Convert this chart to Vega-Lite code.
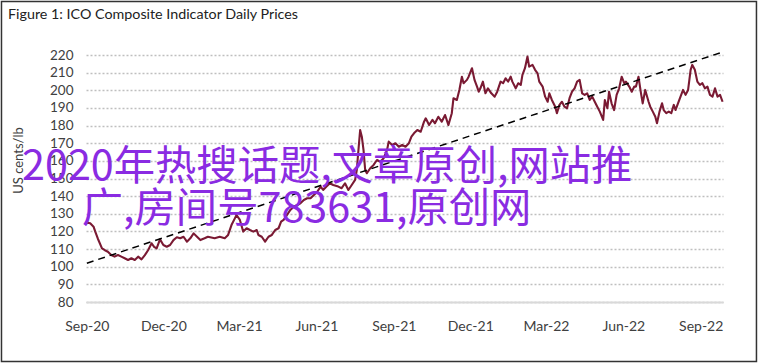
{
  "$schema": "https://vega.github.io/schema/vega-lite/v6.json",
  "autosize": {"type": "none"},
  "width": 637,
  "height": 247,
  "padding": {"left": 86, "top": 55, "right": 35, "bottom": 61},
  "background": "white",
  "config": {
    "view": {"stroke": null},
    "font": "Lato",
    "axis": {"labelFont": "Lato", "titleFont": "Lato"},
    "axisX": {
      "grid": false,
      "ticks": false,
      "tickSize": 0,
      "domain": true,
      "domainColor": "#d9d9d9",
      "domainWidth": 2,
      "labelFontSize": 14,
      "labelColor": "#404040",
      "labelPadding": 17,
      "labelFlush": false,
      "labelOverlap": false
    },
    "axisY": {
      "titleFontSize": 13,
      "titleFontWeight": "normal",
      "titleColor": "#404040",
      "titleX": -68,
      "titleY": 105,
      "titleAngle": -90,
      "titleAlign": "center",
      "titleBaseline": "middle",
      "labelOverlap": false,
      "labelBound": false,
      "grid": true,
      "gridColor": "#bfbfbf",
      "gridDash": [2, 2],
      "gridWidth": 1.3,
      "ticks": false,
      "tickSize": 0,
      "domain": false,
      "labelFontSize": 13.5,
      "labelColor": "#404040",
      "labelPadding": 13
    }
  },
  "title": {
    "text": "Figure 1: ICO Composite Indicator Daily Prices",
    "anchor": "start",
    "frame": "group",
    "dx": -78,
    "offset": -22,
    "fontSize": 14.3,
    "fontWeight": "normal",
    "font": "Lato",
    "color": "#222222"
  },
  "datasets": {
    "prices": [
      {"date": "2020-09-01", "price": 125},
      {"date": "2020-09-05", "price": 124.6},
      {"date": "2020-09-09", "price": 122.7},
      {"date": "2020-09-11", "price": 119.9},
      {"date": "2020-09-14", "price": 116},
      {"date": "2020-09-19", "price": 110.4},
      {"date": "2020-09-22", "price": 109.5},
      {"date": "2020-09-26", "price": 108.5},
      {"date": "2020-09-30", "price": 106.6},
      {"date": "2020-10-04", "price": 105.7},
      {"date": "2020-10-08", "price": 106.6},
      {"date": "2020-10-12", "price": 105.7},
      {"date": "2020-10-16", "price": 104.8},
      {"date": "2020-10-20", "price": 103.8},
      {"date": "2020-10-24", "price": 104.8},
      {"date": "2020-10-28", "price": 103.8},
      {"date": "2020-11-01", "price": 105.7},
      {"date": "2020-11-05", "price": 104.2},
      {"date": "2020-11-09", "price": 106.6},
      {"date": "2020-11-13", "price": 109.5},
      {"date": "2020-11-17", "price": 113.3},
      {"date": "2020-11-20", "price": 111.3},
      {"date": "2020-11-23", "price": 110.4},
      {"date": "2020-11-27", "price": 115.5},
      {"date": "2020-12-01", "price": 112.3},
      {"date": "2020-12-05", "price": 111.3},
      {"date": "2020-12-09", "price": 112.3},
      {"date": "2020-12-13", "price": 115.1},
      {"date": "2020-12-17", "price": 116.7},
      {"date": "2020-12-21", "price": 116.1},
      {"date": "2020-12-25", "price": 117},
      {"date": "2020-12-29", "price": 114.2},
      {"date": "2021-01-02", "price": 116.1},
      {"date": "2021-01-06", "price": 118.9},
      {"date": "2021-01-10", "price": 117},
      {"date": "2021-01-14", "price": 115.1},
      {"date": "2021-01-19", "price": 116.1},
      {"date": "2021-01-23", "price": 117},
      {"date": "2021-01-31", "price": 116.1},
      {"date": "2021-02-06", "price": 117},
      {"date": "2021-02-12", "price": 116.1},
      {"date": "2021-02-16", "price": 118},
      {"date": "2021-02-20", "price": 123.6},
      {"date": "2021-02-24", "price": 127.4},
      {"date": "2021-02-26", "price": 129.3},
      {"date": "2021-03-02", "price": 126.5},
      {"date": "2021-03-06", "price": 119.9},
      {"date": "2021-03-10", "price": 121.8},
      {"date": "2021-03-14", "price": 120.8},
      {"date": "2021-03-18", "price": 119.9},
      {"date": "2021-03-22", "price": 120.8},
      {"date": "2021-03-24", "price": 118},
      {"date": "2021-03-28", "price": 117},
      {"date": "2021-04-01", "price": 114.2},
      {"date": "2021-04-05", "price": 117},
      {"date": "2021-04-09", "price": 118},
      {"date": "2021-04-13", "price": 120.8},
      {"date": "2021-04-17", "price": 121.8},
      {"date": "2021-04-20", "price": 125.5},
      {"date": "2021-04-23", "price": 126.5},
      {"date": "2021-04-27", "price": 129.3},
      {"date": "2021-05-01", "price": 132.2},
      {"date": "2021-05-05", "price": 134},
      {"date": "2021-05-09", "price": 135},
      {"date": "2021-05-13", "price": 136},
      {"date": "2021-05-17", "price": 137.8},
      {"date": "2021-05-21", "price": 138.8},
      {"date": "2021-05-25", "price": 138.8},
      {"date": "2021-05-29", "price": 140.7},
      {"date": "2021-06-02", "price": 142.5},
      {"date": "2021-06-06", "price": 145.4},
      {"date": "2021-06-09", "price": 143.5},
      {"date": "2021-06-13", "price": 145.4},
      {"date": "2021-06-17", "price": 147.3},
      {"date": "2021-06-21", "price": 146.3},
      {"date": "2021-06-27", "price": 145.4},
      {"date": "2021-07-01", "price": 144.5},
      {"date": "2021-07-05", "price": 147.3},
      {"date": "2021-07-09", "price": 143.5},
      {"date": "2021-07-13", "price": 146.3},
      {"date": "2021-07-17", "price": 149.2},
      {"date": "2021-07-19", "price": 154.8},
      {"date": "2021-07-21", "price": 166.2},
      {"date": "2021-07-23", "price": 177.5},
      {"date": "2021-07-25", "price": 173.7},
      {"date": "2021-07-27", "price": 166.2},
      {"date": "2021-07-29", "price": 154.8},
      {"date": "2021-07-31", "price": 153},
      {"date": "2021-08-04", "price": 155.8},
      {"date": "2021-08-08", "price": 157.7},
      {"date": "2021-08-12", "price": 160.5},
      {"date": "2021-08-16", "price": 159.5},
      {"date": "2021-08-20", "price": 161.5},
      {"date": "2021-08-24", "price": 166.2},
      {"date": "2021-08-26", "price": 170.9},
      {"date": "2021-08-30", "price": 169},
      {"date": "2021-09-03", "price": 170},
      {"date": "2021-09-07", "price": 168},
      {"date": "2021-09-11", "price": 169},
      {"date": "2021-09-15", "price": 168},
      {"date": "2021-09-19", "price": 170},
      {"date": "2021-09-22", "price": 173.7},
      {"date": "2021-09-25", "price": 175.6},
      {"date": "2021-09-29", "price": 177.5},
      {"date": "2021-10-03", "price": 176.5},
      {"date": "2021-10-07", "price": 182.2},
      {"date": "2021-10-09", "price": 184.1},
      {"date": "2021-10-13", "price": 180.3},
      {"date": "2021-10-17", "price": 183.2},
      {"date": "2021-10-20", "price": 181.3},
      {"date": "2021-10-24", "price": 185},
      {"date": "2021-10-28", "price": 182.2},
      {"date": "2021-11-01", "price": 186},
      {"date": "2021-11-05", "price": 180.3},
      {"date": "2021-11-09", "price": 187},
      {"date": "2021-11-11", "price": 195.5},
      {"date": "2021-11-15", "price": 194.5},
      {"date": "2021-11-18", "price": 200.2},
      {"date": "2021-11-21", "price": 207.7},
      {"date": "2021-11-23", "price": 204},
      {"date": "2021-11-27", "price": 205.9},
      {"date": "2021-11-29", "price": 207.7},
      {"date": "2021-12-03", "price": 212.5},
      {"date": "2021-12-06", "price": 205.9},
      {"date": "2021-12-09", "price": 202.1},
      {"date": "2021-12-11", "price": 199.2},
      {"date": "2021-12-13", "price": 201.1},
      {"date": "2021-12-16", "price": 204.9},
      {"date": "2021-12-19", "price": 198.3},
      {"date": "2021-12-22", "price": 201.1},
      {"date": "2021-12-26", "price": 198.3},
      {"date": "2021-12-30", "price": 196.4},
      {"date": "2022-01-02", "price": 199.2},
      {"date": "2022-01-06", "price": 204.9},
      {"date": "2022-01-09", "price": 204},
      {"date": "2022-01-12", "price": 206.8},
      {"date": "2022-01-15", "price": 204.9},
      {"date": "2022-01-18", "price": 207.7},
      {"date": "2022-01-20", "price": 204.9},
      {"date": "2022-01-24", "price": 201.1},
      {"date": "2022-01-27", "price": 204},
      {"date": "2022-01-30", "price": 203},
      {"date": "2022-02-01", "price": 208.7},
      {"date": "2022-02-04", "price": 212.5},
      {"date": "2022-02-07", "price": 219.1},
      {"date": "2022-02-09", "price": 213.4},
      {"date": "2022-02-13", "price": 214.4},
      {"date": "2022-02-16", "price": 211.6},
      {"date": "2022-02-19", "price": 209.6},
      {"date": "2022-02-21", "price": 204.9},
      {"date": "2022-02-25", "price": 202.1},
      {"date": "2022-02-28", "price": 196.4},
      {"date": "2022-03-03", "price": 193.5},
      {"date": "2022-03-05", "price": 198.3},
      {"date": "2022-03-08", "price": 194.5},
      {"date": "2022-03-12", "price": 190.7},
      {"date": "2022-03-14", "price": 187},
      {"date": "2022-03-17", "price": 191.7},
      {"date": "2022-03-20", "price": 193.5},
      {"date": "2022-03-23", "price": 190.7},
      {"date": "2022-03-26", "price": 189.8},
      {"date": "2022-03-29", "price": 195.5},
      {"date": "2022-04-01", "price": 199.2},
      {"date": "2022-04-04", "price": 201.1},
      {"date": "2022-04-07", "price": 204.9},
      {"date": "2022-04-10", "price": 205.9},
      {"date": "2022-04-13", "price": 198.3},
      {"date": "2022-04-16", "price": 197.4},
      {"date": "2022-04-19", "price": 198.3},
      {"date": "2022-04-22", "price": 194.5},
      {"date": "2022-04-25", "price": 196.4},
      {"date": "2022-04-28", "price": 193.5},
      {"date": "2022-05-01", "price": 190.7},
      {"date": "2022-05-04", "price": 187.9},
      {"date": "2022-05-08", "price": 183.2},
      {"date": "2022-05-10", "price": 194.5},
      {"date": "2022-05-13", "price": 189.8},
      {"date": "2022-05-15", "price": 199.2},
      {"date": "2022-05-18", "price": 192.6},
      {"date": "2022-05-21", "price": 188.8},
      {"date": "2022-05-24", "price": 197.4},
      {"date": "2022-05-27", "price": 201.1},
      {"date": "2022-05-30", "price": 207.7},
      {"date": "2022-06-02", "price": 204},
      {"date": "2022-06-04", "price": 204.9},
      {"date": "2022-06-08", "price": 202.1},
      {"date": "2022-06-11", "price": 199.2},
      {"date": "2022-06-14", "price": 202.1},
      {"date": "2022-06-16", "price": 202.1},
      {"date": "2022-06-19", "price": 207.7},
      {"date": "2022-06-22", "price": 198.3},
      {"date": "2022-06-24", "price": 192.6},
      {"date": "2022-06-27", "price": 200.2},
      {"date": "2022-07-01", "price": 193.5},
      {"date": "2022-07-03", "price": 190.7},
      {"date": "2022-07-06", "price": 187.9},
      {"date": "2022-07-09", "price": 185},
      {"date": "2022-07-11", "price": 181.3},
      {"date": "2022-07-14", "price": 187.9},
      {"date": "2022-07-17", "price": 192.6},
      {"date": "2022-07-19", "price": 188.8},
      {"date": "2022-07-22", "price": 187},
      {"date": "2022-07-25", "price": 187.9},
      {"date": "2022-07-28", "price": 187},
      {"date": "2022-07-31", "price": 191.7},
      {"date": "2022-08-02", "price": 188.8},
      {"date": "2022-08-05", "price": 192.6},
      {"date": "2022-08-08", "price": 196.4},
      {"date": "2022-08-11", "price": 200.2},
      {"date": "2022-08-14", "price": 197.4},
      {"date": "2022-08-17", "price": 200.2},
      {"date": "2022-08-20", "price": 211.6},
      {"date": "2022-08-22", "price": 214.4},
      {"date": "2022-08-25", "price": 211.6},
      {"date": "2022-08-28", "price": 204.9},
      {"date": "2022-08-31", "price": 203},
      {"date": "2022-09-03", "price": 204},
      {"date": "2022-09-06", "price": 201.1},
      {"date": "2022-09-09", "price": 202.1},
      {"date": "2022-09-12", "price": 197.4},
      {"date": "2022-09-15", "price": 196.4},
      {"date": "2022-09-18", "price": 201.1},
      {"date": "2022-09-21", "price": 196.4},
      {"date": "2022-09-24", "price": 197.4},
      {"date": "2022-09-27", "price": 193.5}
    ],
    "trend": [
      {"date": "2020-09-01", "price": 102},
      {"date": "2022-09-27", "price": 221.7}
    ],
    "frame": [{"kind": "border"}],
    "watermark1": [{"label": "2020年热搜话题,文章原创,网站推"}],
    "watermark2": [{"label": "广,房间号783631,原创网"}]
  },
  "layer": [
    {
      "data": {"name": "prices"},
      "mark": {"type": "line", "color": "#7a1a33", "strokeWidth": 2.1, "strokeJoin": "round"},
      "encoding": {
        "x": {
          "field": "date",
          "type": "temporal",
          "scale": {"type": "utc", "domain": [{"year": 2020, "month": 8, "date": 31, "utc": true}, {"year": 2022, "month": 9, "date": 27, "hours": 12, "utc": true}]},
          "axis": {
            "title": null,
            "format": "%b-%y",
            "values": [
              {"year": 2020, "month": 9, "date": 1, "utc": true},
              {"year": 2020, "month": 12, "date": 1, "utc": true},
              {"year": 2021, "month": 3, "date": 1, "utc": true},
              {"year": 2021, "month": 6, "date": 1, "utc": true},
              {"year": 2021, "month": 9, "date": 1, "utc": true},
              {"year": 2021, "month": 12, "date": 1, "utc": true},
              {"year": 2022, "month": 3, "date": 1, "utc": true},
              {"year": 2022, "month": 6, "date": 1, "utc": true},
              {"year": 2022, "month": 9, "date": 1, "utc": true}
            ]
          }
        },
        "y": {
          "field": "price",
          "type": "quantitative",
          "scale": {"domain": [80, 220], "nice": false, "zero": false},
          "axis": {
            "title": "US cents/lb",
            "values": [80, 90, 100, 110, 120, 130, 140, 150, 160, 170, 180, 190, 200, 210, 220]
          }
        }
      }
    },
    {
      "data": {"name": "trend"},
      "mark": {"type": "line", "color": "#000000", "strokeWidth": 1.5, "strokeDash": [7, 5]},
      "encoding": {
        "x": {
          "field": "date",
          "type": "temporal",
          "axis": {
            "title": null,
            "format": "%b-%y",
            "values": [
              {"year": 2020, "month": 9, "date": 1, "utc": true},
              {"year": 2020, "month": 12, "date": 1, "utc": true},
              {"year": 2021, "month": 3, "date": 1, "utc": true},
              {"year": 2021, "month": 6, "date": 1, "utc": true},
              {"year": 2021, "month": 9, "date": 1, "utc": true},
              {"year": 2021, "month": 12, "date": 1, "utc": true},
              {"year": 2022, "month": 3, "date": 1, "utc": true},
              {"year": 2022, "month": 6, "date": 1, "utc": true},
              {"year": 2022, "month": 9, "date": 1, "utc": true}
            ]
          }
        },
        "y": {
          "field": "price",
          "type": "quantitative",
          "axis": {
            "title": "US cents/lb",
            "values": [80, 90, 100, 110, 120, 130, 140, 150, 160, 170, 180, 190, 200, 210, 220]
          }
        }
      }
    },
    {
      "data": {"name": "watermark1"},
      "mark": {"type": "text", "align": "left", "baseline": "alphabetic", "font": "Noto Sans CJK SC", "fontSize": 41.3, "color": "#8a2be2"},
      "encoding": {
        "text": {"field": "label"},
        "x": {
          "datum": {"year": 2020, "month": 6, "date": 16, "utc": true},
          "type": "temporal",
          "axis": {
            "title": null,
            "format": "%b-%y",
            "values": [
              {"year": 2020, "month": 9, "date": 1, "utc": true},
              {"year": 2020, "month": 12, "date": 1, "utc": true},
              {"year": 2021, "month": 3, "date": 1, "utc": true},
              {"year": 2021, "month": 6, "date": 1, "utc": true},
              {"year": 2021, "month": 9, "date": 1, "utc": true},
              {"year": 2021, "month": 12, "date": 1, "utc": true},
              {"year": 2022, "month": 3, "date": 1, "utc": true},
              {"year": 2022, "month": 6, "date": 1, "utc": true},
              {"year": 2022, "month": 9, "date": 1, "utc": true}
            ]
          }
        },
        "y": {
          "datum": 149.1,
          "type": "quantitative",
          "axis": {
            "title": "US cents/lb",
            "values": [80, 90, 100, 110, 120, 130, 140, 150, 160, 170, 180, 190, 200, 210, 220]
          }
        }
      }
    },
    {
      "data": {"name": "watermark2"},
      "mark": {"type": "text", "align": "left", "baseline": "alphabetic", "font": "Noto Sans CJK SC", "fontSize": 41.3, "color": "#8a2be2"},
      "encoding": {
        "text": {"field": "label"},
        "x": {
          "datum": {"year": 2020, "month": 8, "date": 26, "utc": true},
          "type": "temporal",
          "axis": {
            "title": null,
            "format": "%b-%y",
            "values": [
              {"year": 2020, "month": 9, "date": 1, "utc": true},
              {"year": 2020, "month": 12, "date": 1, "utc": true},
              {"year": 2021, "month": 3, "date": 1, "utc": true},
              {"year": 2021, "month": 6, "date": 1, "utc": true},
              {"year": 2021, "month": 9, "date": 1, "utc": true},
              {"year": 2021, "month": 12, "date": 1, "utc": true},
              {"year": 2022, "month": 3, "date": 1, "utc": true},
              {"year": 2022, "month": 6, "date": 1, "utc": true},
              {"year": 2022, "month": 9, "date": 1, "utc": true}
            ]
          }
        },
        "y": {
          "datum": 125.3,
          "type": "quantitative",
          "axis": {
            "title": "US cents/lb",
            "values": [80, 90, 100, 110, 120, 130, 140, 150, 160, 170, 180, 190, 200, 210, 220]
          }
        }
      }
    },
    {
      "data": {"name": "frame"},
      "mark": {"type": "rect", "filled": false, "stroke": "#333333", "strokeWidth": 1.5},
      "encoding": {
        "x": {
          "datum": {"year": 2020, "month": 5, "date": 22, "hours": 12, "utc": true},
          "type": "temporal",
          "axis": {
            "title": null,
            "format": "%b-%y",
            "values": [
              {"year": 2020, "month": 9, "date": 1, "utc": true},
              {"year": 2020, "month": 12, "date": 1, "utc": true},
              {"year": 2021, "month": 3, "date": 1, "utc": true},
              {"year": 2021, "month": 6, "date": 1, "utc": true},
              {"year": 2021, "month": 9, "date": 1, "utc": true},
              {"year": 2021, "month": 12, "date": 1, "utc": true},
              {"year": 2022, "month": 3, "date": 1, "utc": true},
              {"year": 2022, "month": 6, "date": 1, "utc": true},
              {"year": 2022, "month": 9, "date": 1, "utc": true}
            ]
          }
        },
        "x2": {"datum": {"year": 2022, "month": 11, "date": 6, "hours": 7, "utc": true}},
        "y": {
          "datum": 250.3,
          "type": "quantitative",
          "axis": {
            "title": "US cents/lb",
            "values": [80, 90, 100, 110, 120, 130, 140, 150, 160, 170, 180, 190, 200, 210, 220]
          }
        },
        "y2": {"datum": 46.3}
      }
    }
  ]
}
